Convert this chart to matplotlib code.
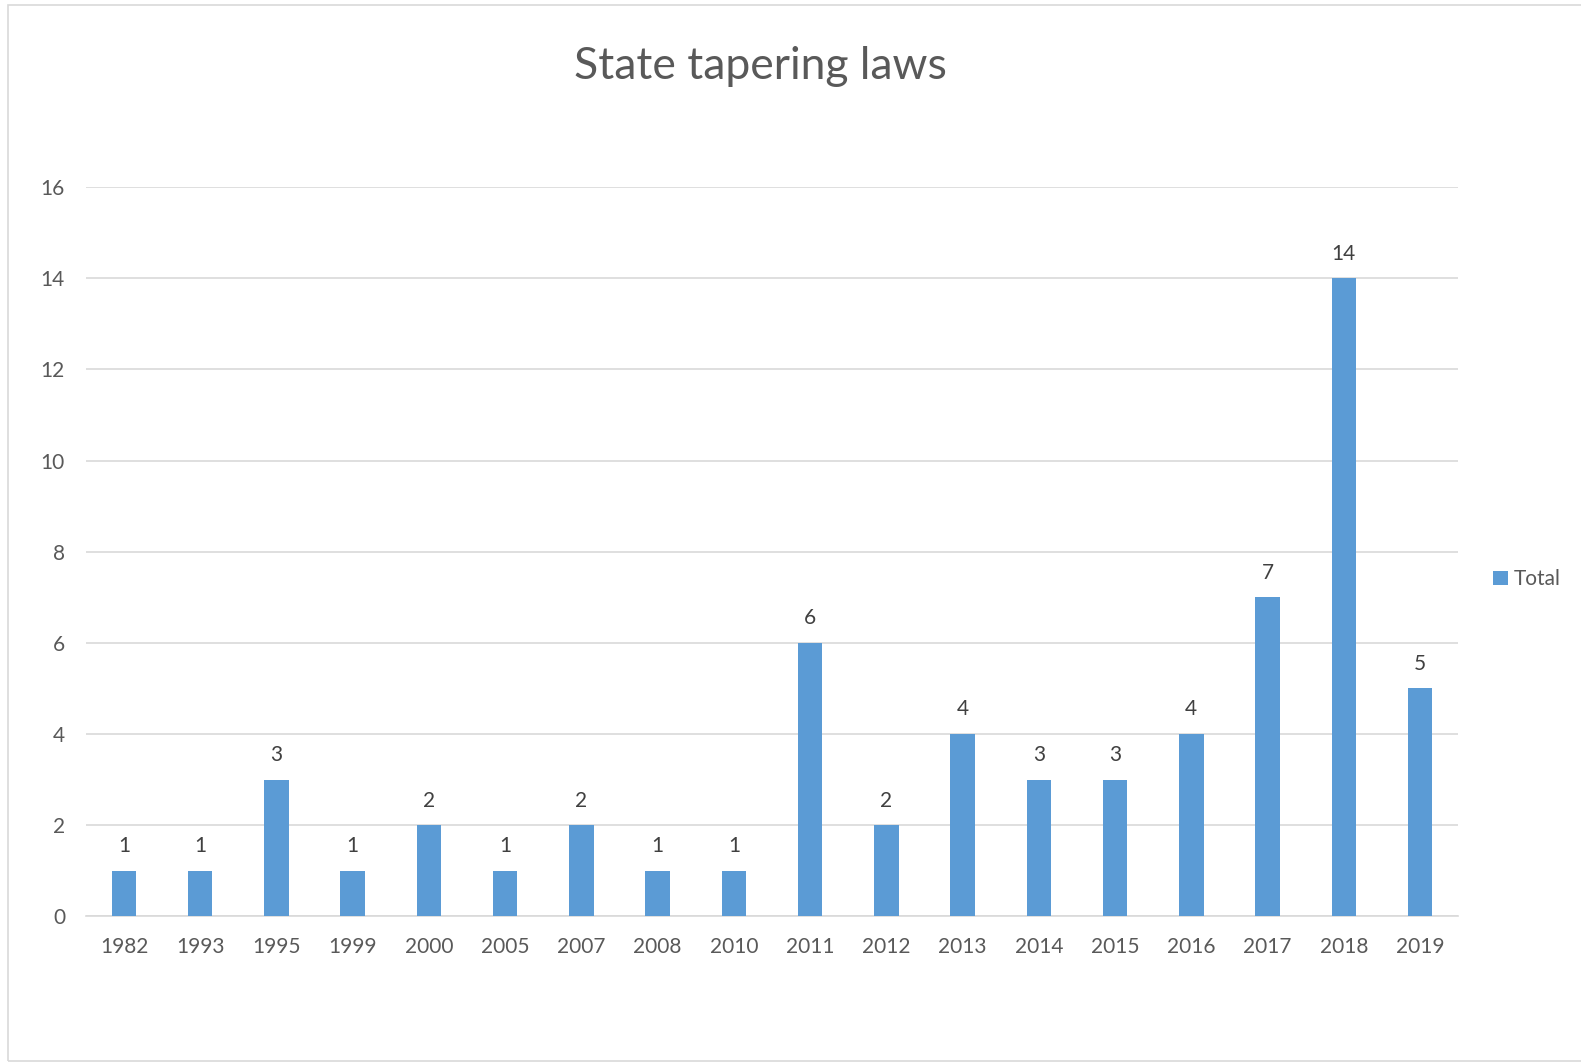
import matplotlib.pyplot as plt
from matplotlib.patches import Rectangle

# data
years = ['1982', '1993', '1995', '1999', '2000', '2005', '2007', '2008', '2010',
         '2011', '2012', '2013', '2014', '2015', '2016', '2017', '2018', '2019']
totals = [1, 1, 3, 1, 2, 1, 2, 1, 1, 6, 2, 4, 3, 3, 4, 7, 14, 5]

plt.rcParams['font.family'] = ['Lato', 'DejaVu Sans']
txt = '#595959'
blue = '#5B9BD5'

fig = plt.figure(figsize=(15.81, 10.63), dpi=100)
ax = fig.add_axes([0.0543, 0.138, 0.868, 0.686])

x = range(len(years))
ax.bar(x, totals, width=0.32, color=blue, label='Total', zorder=3)
for xi, v in zip(x, totals):
    ax.text(xi, v + 0.32, str(v), ha='center', va='bottom', fontsize=15, color='#404040')

ax.set_xlim(-0.5, len(years) - 0.5)
ax.set_ylim(0, 16)
ax.set_yticks(range(0, 17, 2))
ax.set_xticks(list(x))
ax.set_xticklabels(years)
ax.tick_params(axis='both', length=0, labelsize=15, colors=txt)
ax.tick_params(axis='x', pad=15)
ax.tick_params(axis='y', pad=15)
ax.grid(axis='y', color='#D9D9D9', linewidth=1.2, zorder=0)
for s in ['top', 'right', 'left']:
    ax.spines[s].set_visible(False)
ax.spines['bottom'].set_color('#D9D9D9')
ax.spines['bottom'].set_linewidth(1.2)

fig.text(0.481, 0.937, 'State tapering laws', ha='center', va='center', fontsize=32, color=txt)

ax.legend(loc='center left', bbox_to_anchor=(1.012, 0.462), frameon=False, fontsize=15,
          handlelength=0.7, handleheight=0.7, handletextpad=0.3, labelcolor=txt)

# chart border
fig.patches.append(Rectangle((8 / 1581, 2 / 1063), 1.1, 1056 / 1063, transform=fig.transFigure,
                             fill=False, edgecolor='#D9D9D9', linewidth=1.2))

fig.savefig('out.png', dpi=100)
